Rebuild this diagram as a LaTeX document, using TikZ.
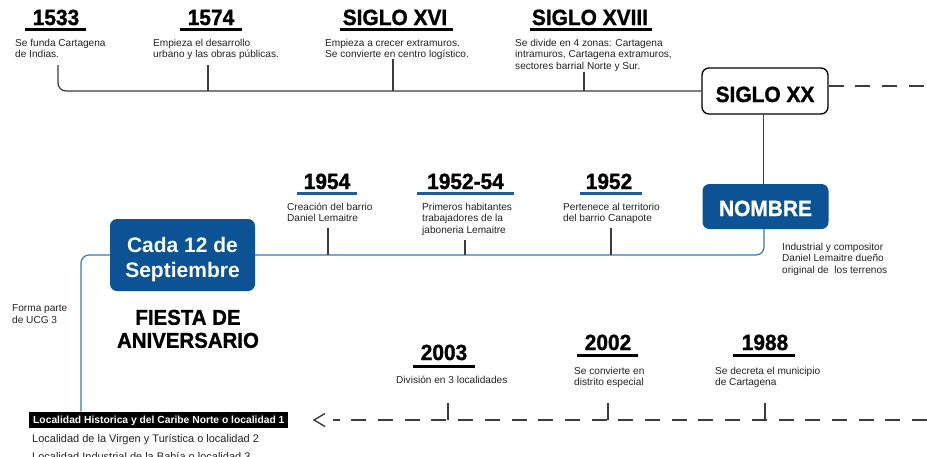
\documentclass[tikz,border=0pt]{standalone}
\usepackage{fontspec}
\setmainfont{Liberation Sans}
\newfontfamily\heavy[FakeStretch=0.95,FakeBold=1.2]{Liberation Sans}
\usetikzlibrary{calc}
\definecolor{boxblue}{HTML}{0B5394}
\definecolor{lineblue}{HTML}{3A77B4}
\definecolor{ulblue}{HTML}{1F5C99}
\definecolor{graytxt}{HTML}{222222}
\definecolor{grayline}{HTML}{3C3C3C}
\begin{document}
\begin{tikzpicture}[x=1pt,y=-1pt,
 year/.style={font=\heavy\bfseries\fontsize{22}{26}\selectfont, anchor=base, inner sep=0pt},
 desc/.style={font=\fontsize{10.1}{11.6}\selectfont, align=left, anchor=north west, inner sep=0pt, text=graytxt},
 ul/.style={line width=3pt, black},
 ulb/.style={line width=3pt, ulblue},
 gline/.style={line width=1.2pt, grayline},
 bline/.style={line width=1.2pt, lineblue},
 dline/.style={gline, dash pattern=on 15pt off 11.7pt},
 bluebox/.style={rectangle, rounded corners=7pt, fill=boxblue, inner sep=0pt},
]
\useasboundingbox (0,0) rectangle (927,456);
\fill[white] (0,0) rectangle (927,456);

% ---------- top timeline ----------
\node[draw=black, line width=1.3pt, rounded corners=7pt, minimum width=126pt, minimum height=46pt,
      inner sep=0pt, text height=22pt, text depth=0pt,
      font=\heavy\bfseries\fontsize{22}{26}\selectfont] (sxx) at (765,91) {SIGLO XX};

\node[year] (y1533) at (56,25) {1533};
\node[year] (y1574) at (211,25) {1574};
\node[year] (y16) at (395,25) {SIGLO XVI};
\node[year] (y18) at (590,25) {SIGLO XVIII};
\draw[ul] (25,29.5) -- (86,29.5);
\draw[ul] (180,29.5) -- (242,29.5);
\draw[ul] (340,29.5) -- (453,29.5);
\draw[ul] (530,29.5) -- (652,29.5);

\node[desc] (d1533) at (15,38.8) {Se funda Cartagena\\de Indias.};
\node[desc] (d1574) at (153,38.8) {Empieza el desarrollo\\urbano y las obras públicas.};
\node[desc] (d16) at (325,38.8) {Empieza a crecer extramuros.\\Se convierte en centro logístico.};
\node[desc] (d18) at (515,38.8) {Se divide en 4 zonas: Cartagena\\intramuros, Cartagena extramuros,\\sectores barrial Norte y Sur.};

\coordinate (t1533) at (58,65);
\coordinate (t1574) at (208,65);
\coordinate (t16) at (393,59);
\coordinate (t18) at (584,72);
\draw[gline, rounded corners=8pt] (t1533) |- (sxx.west);
\draw[gline] (t1574) -- (t1574 |- sxx.west);
\draw[gline] (t16) -- (t16 |- sxx.west);
\draw[gline] (t18) -- (t18 |- sxx.west);

\coordinate (topend) at (927,86);
\draw[dline] ([yshift=5pt]sxx.east) -- (topend);

% ---------- middle ----------
\node[bluebox, minimum width=126pt, minimum height=45pt, text=white, text height=19pt, text depth=0pt,
      font=\heavy\bfseries\fontsize{22}{26}\selectfont] (nom) at (765.5,206.5) {NOMBRE};
\draw[gline] ([xshift=-1.5pt]sxx.south) -- ([xshift=-1.5pt]sxx.south |- nom.north);
\node[desc] (dnom) at (782,242.7) {Industrial y compositor\\Daniel Lemaitre dueño\\original de\ \ los terrenos};

\node[bluebox, minimum width=145pt, minimum height=72pt] (cada) at (182.5,255) {};
\node[text=white, font=\bfseries\fontsize{21}{25}\selectfont, align=center, inner sep=0pt]
      (cadat) at ([yshift=-4.5pt]cada.center) {Cada 12 de\\Septiembre};

\coordinate (lblc) at (81,411.5);
\draw[bline, rounded corners=8pt] (cada.east) -| ([xshift=-1.5pt]nom.south);
\draw[bline, rounded corners=8pt] (cada.west) -| (lblc);

\node[year] (y1954) at (327,189) {1954};
\node[year] (y5254) at (465.5,189) {1952-54};
\node[year] (y1952) at (609,189) {1952};
\draw[ulb] (297,193.5) -- (357,193.5);
\draw[ulb] (417,193.5) -- (514,193.5);
\draw[ulb] (580,193.5) -- (642,193.5);

\node[desc] (d1954) at (287,202.7) {Creación del barrio\\Daniel Lemaitre};
\node[desc] (d5254) at (422,202.7) {Primeros habitantes\\trabajadores de la\\jaboneria Lemaitre};
\node[desc] (d1952) at (563,202.7) {Pertenece al territorio\\del barrio Canapote};

\coordinate (m1) at (328,228);
\coordinate (m2) at (465,240);
\coordinate (m3) at (611,228);
\draw[gline] (m1) -- (m1 |- cada.east);
\draw[gline] (m2) -- (m2 |- cada.east);
\draw[gline] (m3) -- (m3 |- cada.east);

\node[font=\heavy\bfseries\fontsize{21.5}{23}\selectfont, align=center, anchor=north, inner sep=0pt]
      (fiesta) at (188,309.6) {FIESTA DE\\ANIVERSARIO};
\node[desc] (forma) at (12,304.7) {Forma parte\\de UCG 3};

% ---------- bottom ----------
\node[year] (y2003) at (444,360) {2003};
\node[year] (y2002) at (608,350) {2002};
\node[year] (y1988) at (765,350) {1988};
\draw[ul] (413,366) -- (475,366);
\draw[ul] (577,355.5) -- (638,355.5);
\draw[ul] (733,355.5) -- (795,355.5);

\node[desc] (d2003) at (396,375.7) {División en 3 localidades};
\node[desc] (d2002) at (574,366.7) {Se convierte en\\distrito especial};
\node[desc] (d1988) at (715,366.7) {Se decreta el municipio\\de Cartagena};

\coordinate (botend) at (927,420);
\coordinate (chev) at (314,420);
\draw[dline] (botend) -- ([xshift=19pt]chev);
\draw[gline, line width=1.4pt] ([shift={(11pt,6.5pt)}]chev) -- (chev) -- ([shift={(11pt,-6.5pt)}]chev);

\coordinate (b1) at (448,403);
\coordinate (b2) at (608,403);
\coordinate (b3) at (765,403);
\draw[gline] (b1) -- (b1 |- botend);
\draw[gline] (b2) -- (b2 |- botend);
\draw[gline] (b3) -- (b3 |- botend);

\node[fill=black, text=white, font=\bfseries\fontsize{10.3}{12}\selectfont, anchor=base west,
      inner xsep=4pt, inner ysep=1.5pt, text height=10pt, text depth=3pt]
      (lbl) at (29,423) {Localidad Historica y del Caribe Norte o localidad 1};
\node[font=\fontsize{11}{13}\selectfont, anchor=base west, inner sep=0pt, text=graytxt]
      (l2) at (32,442) {Localidad de la Virgen y Turística o localidad 2};
\node[font=\fontsize{11}{13}\selectfont, anchor=base west, inner sep=0pt, text=graytxt]
      (l3) at (32,460) {Localidad Industrial de la Bahía o localidad 3};
\end{tikzpicture}
\end{document}
